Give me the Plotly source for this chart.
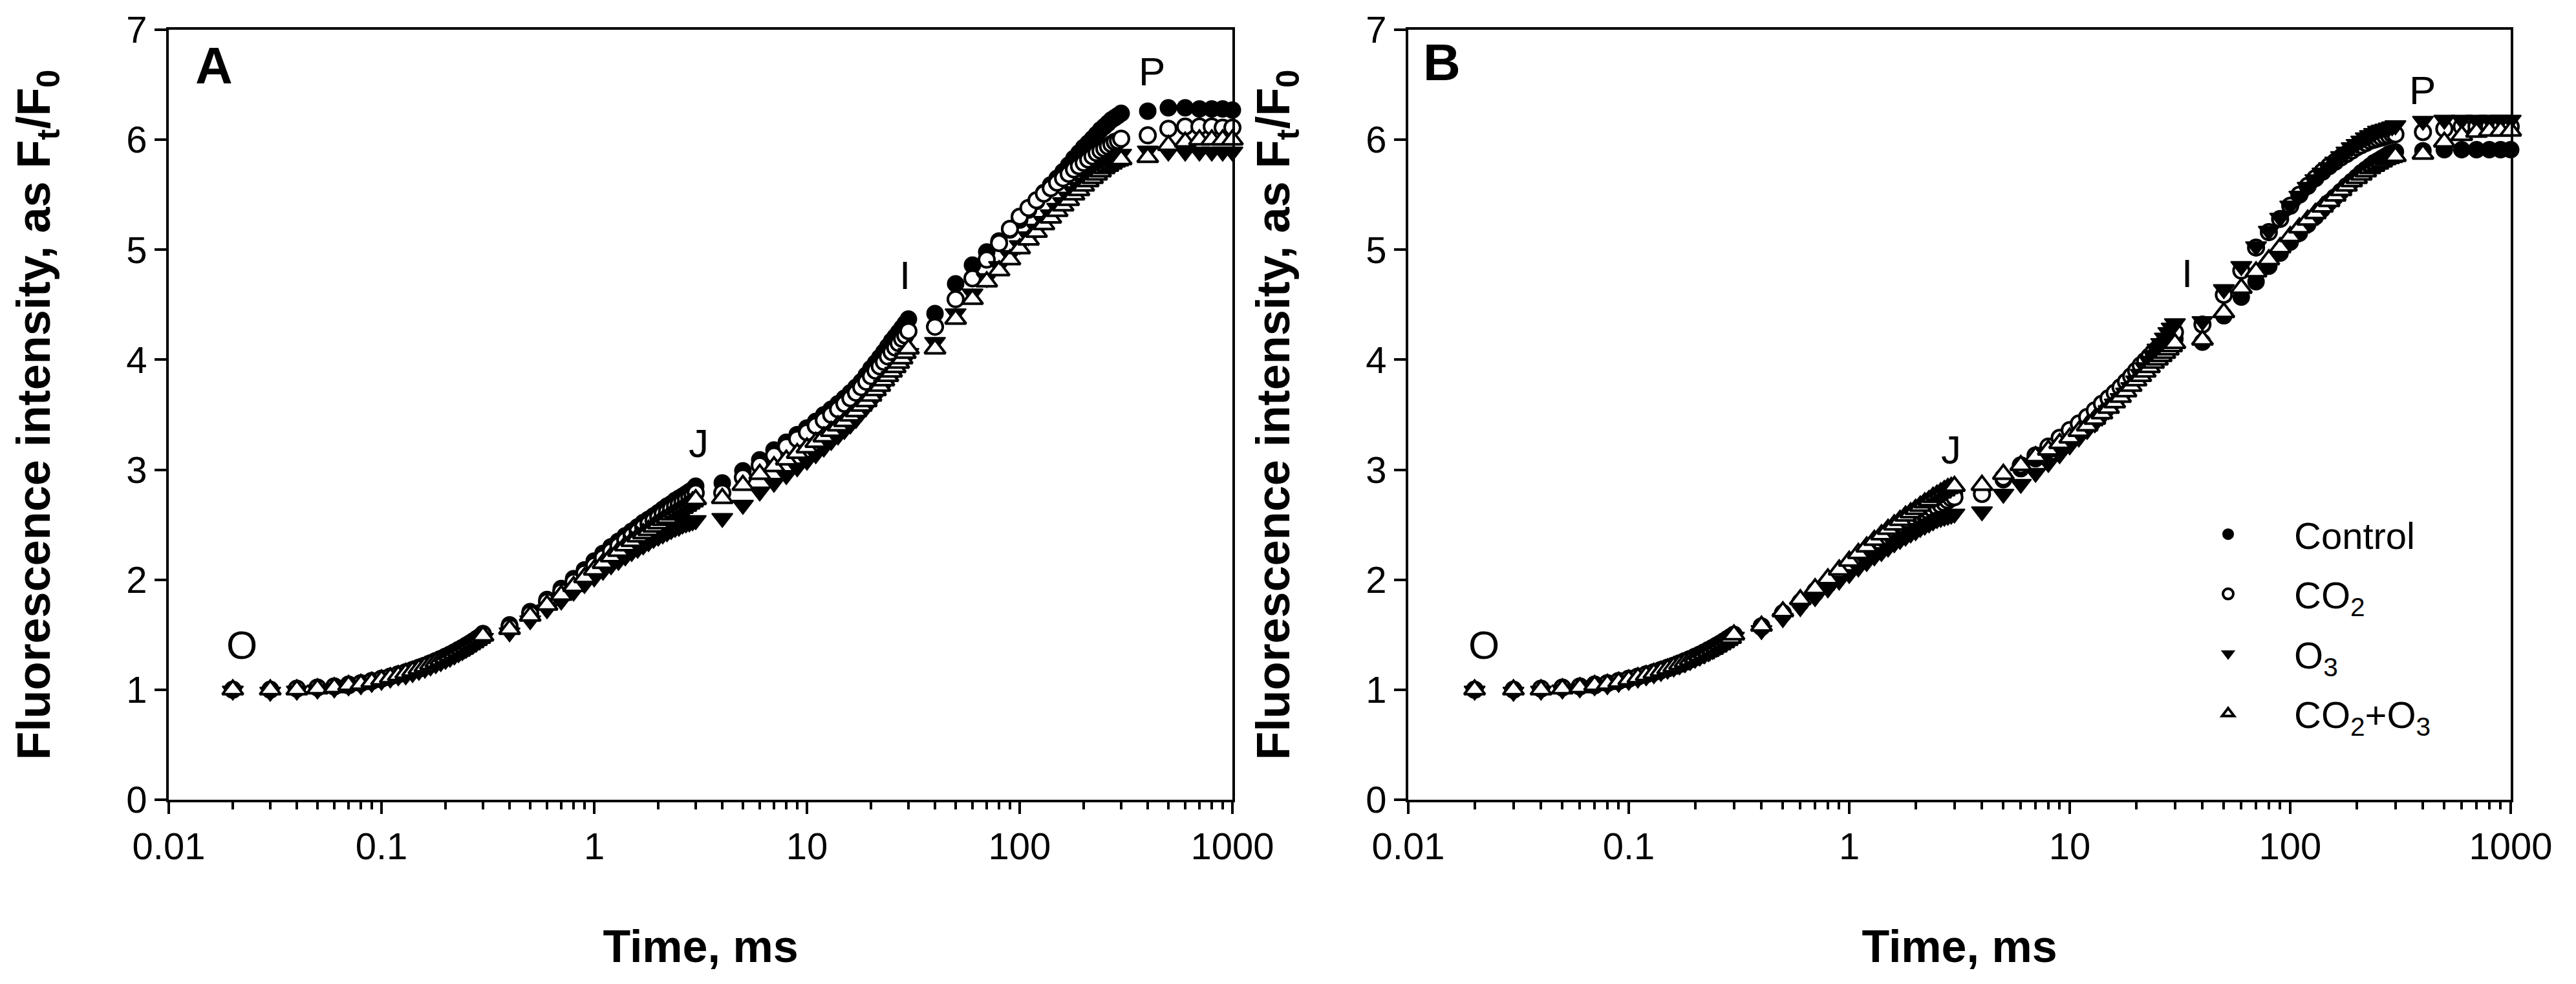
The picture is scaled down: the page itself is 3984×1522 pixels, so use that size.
import math
import plotly.graph_objects as go

# ---------------- data ----------------
time_ms = [0.02, 0.03, 0.04, 0.05, 0.06, 0.07, 0.08, 0.09, 0.10, 0.11, 0.12, 0.13, 0.14, 0.15,
           0.16, 0.17, 0.18, 0.19, 0.20, 0.21, 0.22, 0.23, 0.24, 0.25, 0.26, 0.27, 0.28, 0.29, 0.30,
           0.4, 0.5, 0.6, 0.7, 0.8, 0.9, 1.0, 1.1, 1.2, 1.3, 1.4, 1.5, 1.6, 1.7, 1.8, 1.9, 2.0,
           2.1, 2.2, 2.3, 2.4, 2.5, 2.6, 2.7, 2.8, 2.9, 3.0,
           4, 5, 6, 7, 8, 9, 10, 11, 12, 13, 14, 15, 16, 17, 18, 19, 20, 21, 22, 23, 24, 25,
           26, 27, 28, 29, 30,
           40, 50, 60, 70, 80, 90, 100, 110, 120, 130, 140, 150, 160, 170, 180, 190, 200, 210,
           220, 230, 240, 250, 260, 270, 280, 290, 300,
           400, 500, 600, 700, 800, 900, 1000]

a_control = [1.00, 1.00, 1.01, 1.02, 1.03, 1.05, 1.06, 1.08, 1.10, 1.12, 1.14, 1.16, 1.18, 1.20, 1.22,
             1.24, 1.26, 1.28, 1.30, 1.32, 1.34, 1.36, 1.38, 1.40, 1.42, 1.44, 1.46, 1.48, 1.51,
             1.59, 1.71, 1.82, 1.92, 2.01, 2.09, 2.17, 2.24, 2.30, 2.35, 2.40, 2.44, 2.48, 2.52,
             2.55, 2.58, 2.61, 2.64, 2.67, 2.69, 2.72, 2.74, 2.76, 2.78, 2.80, 2.82, 2.85,
             2.88, 2.99, 3.09, 3.18, 3.25, 3.32, 3.38, 3.44, 3.50, 3.55, 3.60, 3.65, 3.70, 3.75,
             3.80, 3.86, 3.92, 3.97, 4.02, 4.07, 4.12, 4.17, 4.21, 4.25, 4.29, 4.33, 4.37,
             4.42, 4.69, 4.86, 4.98, 5.08, 5.18, 5.27, 5.36, 5.44, 5.52, 5.59, 5.65, 5.71, 5.77,
             5.83, 5.88, 5.93, 5.97, 6.01, 6.05, 6.09, 6.12, 6.15, 6.18, 6.20, 6.22, 6.24,
             6.26, 6.29, 6.29, 6.28, 6.28, 6.28, 6.27]
a_co2 = [1.00, 1.00, 1.01, 1.02, 1.03, 1.04, 1.06, 1.08, 1.10, 1.12, 1.14, 1.16, 1.18, 1.20, 1.22,
         1.24, 1.26, 1.28, 1.30, 1.32, 1.34, 1.36, 1.38, 1.40, 1.42, 1.44, 1.46, 1.48, 1.50,
         1.57, 1.69, 1.80, 1.89, 1.98, 2.06, 2.13, 2.20, 2.26, 2.31, 2.36, 2.40, 2.44, 2.48,
         2.51, 2.54, 2.57, 2.60, 2.62, 2.65, 2.67, 2.69, 2.71, 2.73, 2.75, 2.77, 2.79,
         2.79, 2.93, 3.04, 3.13, 3.21, 3.28, 3.34, 3.40, 3.45, 3.50, 3.55, 3.60, 3.65, 3.70,
         3.75, 3.80, 3.85, 3.90, 3.94, 3.98, 4.03, 4.07, 4.11, 4.15, 4.19, 4.22, 4.26,
         4.30, 4.55, 4.74, 4.91, 5.06, 5.19, 5.30, 5.38, 5.45, 5.51, 5.56, 5.61, 5.65, 5.69,
         5.73, 5.76, 5.79, 5.82, 5.85, 5.88, 5.90, 5.92, 5.94, 5.96, 5.98, 5.99, 6.01,
         6.04, 6.10, 6.12, 6.12, 6.12, 6.11, 6.11]
a_o3 = [0.99, 0.98, 0.99, 1.00, 1.01, 1.03, 1.04, 1.06, 1.08, 1.10, 1.12, 1.13, 1.15, 1.17, 1.19,
        1.21, 1.23, 1.25, 1.27, 1.29, 1.31, 1.33, 1.35, 1.37, 1.39, 1.41, 1.43, 1.45, 1.47,
        1.52, 1.63, 1.73, 1.81, 1.89, 1.96, 2.02, 2.08, 2.13, 2.17, 2.21, 2.25, 2.28, 2.31,
        2.34, 2.37, 2.39, 2.41, 2.43, 2.45, 2.47, 2.48, 2.50, 2.51, 2.52, 2.53, 2.54,
        2.56, 2.68, 2.80, 2.88, 2.95, 3.02, 3.08, 3.14, 3.20, 3.26, 3.31, 3.36, 3.41, 3.46,
        3.52, 3.57, 3.62, 3.67, 3.72, 3.77, 3.81, 3.85, 3.89, 3.93, 3.97, 4.02, 4.06,
        4.16, 4.42, 4.60, 4.74, 4.85, 4.95, 5.04, 5.12, 5.19, 5.26, 5.32, 5.38, 5.43, 5.48,
        5.53, 5.57, 5.61, 5.65, 5.68, 5.71, 5.74, 5.77, 5.79, 5.81, 5.83, 5.85, 5.87,
        5.90, 5.89, 5.89, 5.89, 5.89, 5.89, 5.89]
a_co2_o3 = [1.00, 1.00, 1.00, 1.01, 1.02, 1.04, 1.05, 1.07, 1.09, 1.11, 1.13, 1.15, 1.17, 1.19, 1.21,
            1.23, 1.25, 1.27, 1.29, 1.31, 1.33, 1.35, 1.37, 1.39, 1.41, 1.43, 1.45, 1.47, 1.49,
            1.55, 1.67, 1.77, 1.86, 1.94, 2.02, 2.09, 2.15, 2.21, 2.26, 2.31, 2.35, 2.39, 2.42,
            2.45, 2.48, 2.51, 2.54, 2.56, 2.59, 2.61, 2.63, 2.65, 2.67, 2.69, 2.71, 2.73,
            2.74, 2.86, 2.96, 3.03, 3.09, 3.15, 3.20, 3.25, 3.30, 3.35, 3.40, 3.44, 3.49, 3.53,
            3.58, 3.62, 3.67, 3.72, 3.76, 3.81, 3.85, 3.89, 3.93, 3.97, 4.01, 4.06, 4.10,
            4.10, 4.37, 4.55, 4.71, 4.81, 4.91, 5.01, 5.09, 5.16, 5.23, 5.29, 5.35, 5.40, 5.45,
            5.50, 5.54, 5.58, 5.62, 5.65, 5.68, 5.71, 5.74, 5.76, 5.78, 5.80, 5.81, 5.82,
            5.84, 5.95, 5.98, 6.00, 6.00, 6.00, 6.00]

b_control = [1.00, 1.00, 1.01, 1.02, 1.03, 1.05, 1.06, 1.08, 1.10, 1.12, 1.14, 1.16, 1.18, 1.20, 1.22,
             1.24, 1.26, 1.28, 1.30, 1.32, 1.34, 1.36, 1.38, 1.40, 1.42, 1.44, 1.46, 1.48, 1.50,
             1.58, 1.70, 1.80, 1.90, 1.98, 2.06, 2.13, 2.19, 2.25, 2.30, 2.35, 2.39, 2.43, 2.47,
             2.50, 2.53, 2.56, 2.59, 2.61, 2.64, 2.66, 2.68, 2.70, 2.72, 2.74, 2.76, 2.78,
             2.80, 2.91, 3.01, 3.10, 3.18, 3.25, 3.32, 3.38, 3.44, 3.50, 3.56, 3.62, 3.67, 3.73,
             3.78, 3.84, 3.89, 3.93, 3.97, 4.01, 4.04, 4.07, 4.10, 4.13, 4.15, 4.17, 4.19,
             4.16, 4.40, 4.57, 4.71, 4.85, 4.97, 5.07, 5.15, 5.23, 5.30, 5.37, 5.43, 5.48, 5.53,
             5.58, 5.62, 5.66, 5.70, 5.73, 5.76, 5.79, 5.81, 5.83, 5.85, 5.87, 5.88, 5.89,
             5.90, 5.91, 5.91, 5.91, 5.91, 5.91, 5.91]
b_co2 = [1.00, 1.00, 1.01, 1.02, 1.03, 1.04, 1.06, 1.08, 1.10, 1.12, 1.14, 1.16, 1.18, 1.20, 1.22,
         1.24, 1.26, 1.28, 1.30, 1.32, 1.34, 1.36, 1.38, 1.40, 1.42, 1.44, 1.46, 1.48, 1.50,
         1.57, 1.69, 1.79, 1.88, 1.96, 2.04, 2.11, 2.17, 2.23, 2.28, 2.33, 2.37, 2.41, 2.45,
         2.48, 2.51, 2.54, 2.57, 2.59, 2.62, 2.64, 2.66, 2.68, 2.70, 2.72, 2.74, 2.75,
         2.78, 2.93, 3.04, 3.13, 3.21, 3.29, 3.36, 3.42, 3.48, 3.54, 3.60, 3.65, 3.70, 3.75,
         3.80, 3.85, 3.90, 3.95, 3.99, 4.03, 4.07, 4.10, 4.13, 4.16, 4.19, 4.22, 4.25,
         4.32, 4.59, 4.81, 5.02, 5.16, 5.28, 5.40, 5.50, 5.58, 5.65, 5.71, 5.76, 5.80, 5.84,
         5.87, 5.90, 5.93, 5.95, 5.97, 5.99, 6.00, 6.01, 6.02, 6.03, 6.04, 6.05, 6.05,
         6.07, 6.10, 6.12, 6.12, 6.12, 6.12, 6.12]
b_o3 = [0.99, 0.98, 0.99, 1.00, 1.01, 1.03, 1.04, 1.06, 1.08, 1.10, 1.12, 1.14, 1.16, 1.18, 1.20,
        1.22, 1.24, 1.26, 1.28, 1.30, 1.32, 1.34, 1.36, 1.38, 1.40, 1.42, 1.44, 1.46, 1.48,
        1.54, 1.65, 1.75, 1.84, 1.92, 1.99, 2.05, 2.11, 2.16, 2.21, 2.25, 2.29, 2.33, 2.36,
        2.39, 2.42, 2.44, 2.47, 2.49, 2.51, 2.53, 2.55, 2.56, 2.57, 2.58, 2.59, 2.60,
        2.62, 2.78, 2.87, 2.97, 3.06, 3.14, 3.22, 3.29, 3.36, 3.42, 3.48, 3.54, 3.60, 3.65,
        3.70, 3.75, 3.81, 3.87, 3.93, 3.99, 4.04, 4.10, 4.15, 4.20, 4.25, 4.29, 4.33,
        4.35, 4.64, 4.85, 5.03, 5.17, 5.29, 5.40, 5.49, 5.57, 5.64, 5.70, 5.75, 5.80, 5.85,
        5.89, 5.93, 5.96, 5.99, 6.02, 6.04, 6.06, 6.08, 6.09, 6.10, 6.11, 6.12, 6.13,
        6.17, 6.18, 6.18, 6.18, 6.18, 6.18, 6.18]
b_co2_o3 = [1.00, 1.00, 1.00, 1.01, 1.02, 1.04, 1.05, 1.07, 1.09, 1.11, 1.13, 1.15, 1.17, 1.19, 1.21,
            1.23, 1.25, 1.27, 1.29, 1.31, 1.33, 1.35, 1.37, 1.39, 1.41, 1.43, 1.45, 1.47, 1.50,
            1.58, 1.71, 1.82, 1.92, 2.01, 2.09, 2.17, 2.24, 2.30, 2.36, 2.41, 2.46, 2.50, 2.54,
            2.58, 2.61, 2.64, 2.67, 2.70, 2.72, 2.75, 2.77, 2.79, 2.81, 2.83, 2.84, 2.85,
            2.86, 2.96, 3.04, 3.12, 3.18, 3.24, 3.29, 3.35, 3.40, 3.46, 3.51, 3.56, 3.61, 3.66,
            3.71, 3.76, 3.81, 3.85, 3.89, 3.93, 3.97, 4.00, 4.03, 4.06, 4.09, 4.12, 4.15,
            4.18, 4.43, 4.65, 4.80, 4.91, 5.02, 5.12, 5.20, 5.27, 5.33, 5.39, 5.44, 5.49, 5.54,
            5.58, 5.62, 5.65, 5.68, 5.71, 5.74, 5.76, 5.78, 5.80, 5.82, 5.83, 5.84, 5.85,
            5.87, 5.98, 6.04, 6.07, 6.08, 6.08, 6.08]

series_names = ["Control", "CO<sub>2</sub>", "O<sub>3</sub>", "CO<sub>2</sub>+O<sub>3</sub>"]
x_tick_vals = [0.01, 0.1, 1, 10, 100, 1000]
x_tick_text = ["0.01", "0.1", "1", "10", "100", "1000"]
y_tick_vals = [0, 1, 2, 3, 4, 5, 6, 7]

# phase labels: (text, time ms, value)
labels_a = [("O", 0.022, 1.41), ("J", 3.1, 3.24), ("I", 28.8, 4.77), ("P", 418, 6.62)]
labels_b = [("O", 0.022, 1.41), ("J", 2.9, 3.18), ("I", 34, 4.79), ("P", 399, 6.45)]

for s in [a_control, a_co2, a_o3, a_co2_o3, b_control, b_co2, b_o3, b_co2_o3]:
    assert len(s) == len(time_ms), len(s)

# ---------------- styling ----------------
W, H = 3984, 1522
OFF = 8  # page margin of the html body, compensated here (pixels)
FONT = "Liberation Sans, Arial, Helvetica, sans-serif"

def px_x(p):
    return (p - OFF) / W

def px_y(p):
    return 1 - (p - OFF) / H

styles = [
    dict(symbol="circle", size=25, color="black", line=dict(color="black", width=2)),
    dict(symbol="circle", size=24, color="white", line=dict(color="black", width=4)),
    dict(symbol="triangle-down", size=28, color="black", line=dict(color="black", width=2)),
    dict(symbol="triangle-up", size=28, color="white", line=dict(color="black", width=4)),
]

fig = go.Figure()
panels = [("x", "y", [a_control, a_co2, a_o3, a_co2_o3], False),
          ("x2", "y2", [b_control, b_co2, b_o3, b_co2_o3], True)]
for xa, ya, data, show in panels:
    for name, vals, st in zip(series_names, data, styles):
        fig.add_trace(go.Scatter(
            x=time_ms, y=vals, mode="markers", name=name, xaxis=xa, yaxis=ya,
            marker=st, showlegend=show, legendgroup=name, cliponaxis=False))

minor_vals = [m * 10 ** e for e in range(-2, 3) for m in range(2, 10)]

def xaxis(domain):
    return dict(
        type="log", range=[-2, 3], domain=domain, showgrid=False, zeroline=False,
        showline=True, linecolor="black", linewidth=4, mirror=True,
        ticks="outside", ticklen=18, tickwidth=3.5, tickcolor="black",
        tickmode="array", tickvals=x_tick_vals, ticktext=x_tick_text,
        tickfont=dict(family=FONT, size=58, color="black"),
        minor=dict(ticks="outside", ticklen=11, tickwidth=3.5, tickcolor="black",
                   tickvals=minor_vals, showgrid=False),
        title=dict(text="<b>Time, ms</b>", font=dict(family=FONT, size=70, color="black"),
                   standoff=100),
        automargin=False)

def yaxis(anchor):
    return dict(
        range=[0, 7], domain=[px_y(1237), px_y(46)], anchor=anchor,
        showgrid=False, zeroline=False, showline=True, linecolor="black", linewidth=4,
        mirror=True, ticks="outside", ticklen=18, tickwidth=3.5, tickcolor="black",
        tickmode="array", tickvals=y_tick_vals,
        tickfont=dict(family=FONT, size=58, color="black"),
        title=dict(text="<b>Fluorescence intensity, as F<sub>t</sub>/F<sub>0</sub></b>",
                   font=dict(family=FONT, size=72, color="black"), standoff=95),
        automargin=False)

fig.update_layout(
    width=W, height=H, margin=dict(l=0, r=0, t=0, b=0),
    paper_bgcolor="white", plot_bgcolor="white",
    font=dict(family=FONT, color="black"),
    xaxis=dict(xaxis([px_x(261), px_x(1906)]), anchor="y"),
    yaxis=yaxis("x"),
    xaxis2=dict(xaxis([px_x(2178), px_x(3883)]), anchor="y2"),
    yaxis2=yaxis("x2"),
    legend=dict(x=px_x(3344), y=px_y(782), xanchor="left", yanchor="top",
                font=dict(family=FONT, size=58, color="black"),
                bgcolor="rgba(0,0,0,0)", itemwidth=194, tracegroupgap=14,
                itemsizing="trace"),
)

ann = []
for (xr, yr, labs) in [("x", "y", labels_a), ("x2", "y2", labels_b)]:
    for t, tx, ty in labs:
        ann.append(dict(x=math.log10(tx), y=ty, xref=xr, yref=yr, text=t, showarrow=False,
                        xanchor="center", yanchor="middle",
                        font=dict(family=FONT, size=62, color="black")))
ann.append(dict(x=px_x(331), y=px_y(101), xref="paper", yref="paper", text="<b>A</b>",
                xanchor="center", yanchor="middle", showarrow=False,
                font=dict(family=FONT, size=80, color="black")))
ann.append(dict(x=px_x(2230), y=px_y(96), xref="paper", yref="paper", text="<b>B</b>",
                xanchor="center", yanchor="middle", showarrow=False,
                font=dict(family=FONT, size=80, color="black")))
fig.update_layout(annotations=ann)

fig.write_html("out.html")
